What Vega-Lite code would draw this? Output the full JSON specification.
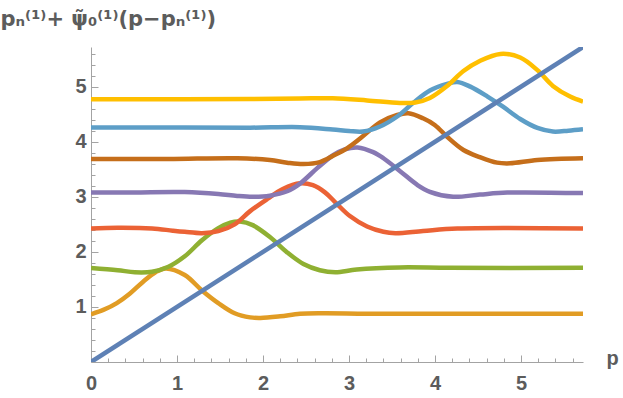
{
  "$schema": "https://vega.github.io/schema/vega-lite/v6.json",
  "width": 492,
  "height": 315,
  "autosize": {"type": "none"},
  "padding": {"left": 91, "top": 47, "right": 40, "bottom": 36},
  "background": "white",
  "config": {"view": {"stroke": null}, "font": "Liberation Sans"},
  "datasets": {
    "curves": [
      {"n": "1", "x": 0, "y": 0.867}, {"n": "1", "x": 0.15, "y": 0.95}, {"n": "1", "x": 0.3, "y": 1.07}, {"n": "1", "x": 0.45, "y": 1.24}, {"n": "1", "x": 0.6, "y": 1.45}, {"n": "1", "x": 0.75, "y": 1.63}, {"n": "1", "x": 0.87, "y": 1.7}, {"n": "1", "x": 1.09, "y": 1.58}, {"n": "1", "x": 1.29, "y": 1.3}, {"n": "1", "x": 1.48, "y": 1.07}, {"n": "1", "x": 1.67, "y": 0.885}, {"n": "1", "x": 1.85, "y": 0.81}, {"n": "1", "x": 1.97, "y": 0.8}, {"n": "1", "x": 2.2, "y": 0.83}, {"n": "1", "x": 2.43, "y": 0.876}, {"n": "1", "x": 2.7, "y": 0.885}, {"n": "1", "x": 3.2, "y": 0.878}, {"n": "1", "x": 4.0, "y": 0.876}, {"n": "1", "x": 5.72, "y": 0.875},
      {"n": "2", "x": 0, "y": 1.709}, {"n": "2", "x": 0.31, "y": 1.667}, {"n": "2", "x": 0.51, "y": 1.63}, {"n": "2", "x": 0.71, "y": 1.64}, {"n": "2", "x": 0.9, "y": 1.73}, {"n": "2", "x": 1.09, "y": 1.92}, {"n": "2", "x": 1.29, "y": 2.21}, {"n": "2", "x": 1.48, "y": 2.43}, {"n": "2", "x": 1.62, "y": 2.53}, {"n": "2", "x": 1.73, "y": 2.55}, {"n": "2", "x": 1.88, "y": 2.485}, {"n": "2", "x": 2.08, "y": 2.27}, {"n": "2", "x": 2.28, "y": 1.99}, {"n": "2", "x": 2.47, "y": 1.78}, {"n": "2", "x": 2.66, "y": 1.667}, {"n": "2", "x": 2.84, "y": 1.63}, {"n": "2", "x": 3.09, "y": 1.68}, {"n": "2", "x": 3.59, "y": 1.717}, {"n": "2", "x": 4.17, "y": 1.71}, {"n": "2", "x": 5.72, "y": 1.71},
      {"n": "3", "x": 0, "y": 2.425}, {"n": "3", "x": 0.31, "y": 2.436}, {"n": "3", "x": 0.71, "y": 2.425}, {"n": "3", "x": 0.95, "y": 2.385}, {"n": "3", "x": 1.09, "y": 2.364}, {"n": "3", "x": 1.29, "y": 2.34}, {"n": "3", "x": 1.48, "y": 2.376}, {"n": "3", "x": 1.67, "y": 2.5}, {"n": "3", "x": 1.85, "y": 2.74}, {"n": "3", "x": 2.05, "y": 2.96}, {"n": "3", "x": 2.23, "y": 3.14}, {"n": "3", "x": 2.43, "y": 3.244}, {"n": "3", "x": 2.58, "y": 3.21}, {"n": "3", "x": 2.72, "y": 3.08}, {"n": "3", "x": 2.84, "y": 2.9}, {"n": "3", "x": 3.01, "y": 2.65}, {"n": "3", "x": 3.21, "y": 2.46}, {"n": "3", "x": 3.4, "y": 2.364}, {"n": "3", "x": 3.54, "y": 2.34}, {"n": "3", "x": 3.86, "y": 2.38}, {"n": "3", "x": 4.26, "y": 2.425}, {"n": "3", "x": 5.72, "y": 2.425},
      {"n": "4", "x": 0, "y": 3.076}, {"n": "4", "x": 0.5, "y": 3.08}, {"n": "4", "x": 1.09, "y": 3.085}, {"n": "4", "x": 1.48, "y": 3.05}, {"n": "4", "x": 1.7, "y": 3.015}, {"n": "4", "x": 1.88, "y": 3.0}, {"n": "4", "x": 2.08, "y": 3.02}, {"n": "4", "x": 2.28, "y": 3.1}, {"n": "4", "x": 2.43, "y": 3.24}, {"n": "4", "x": 2.63, "y": 3.52}, {"n": "4", "x": 2.81, "y": 3.75}, {"n": "4", "x": 2.95, "y": 3.86}, {"n": "4", "x": 3.1, "y": 3.895}, {"n": "4", "x": 3.28, "y": 3.81}, {"n": "4", "x": 3.4, "y": 3.7}, {"n": "4", "x": 3.59, "y": 3.47}, {"n": "4", "x": 3.79, "y": 3.22}, {"n": "4", "x": 3.94, "y": 3.09}, {"n": "4", "x": 4.21, "y": 3.0}, {"n": "4", "x": 4.52, "y": 3.04}, {"n": "4", "x": 4.84, "y": 3.076}, {"n": "4", "x": 5.72, "y": 3.067},
      {"n": "5", "x": 0, "y": 3.686}, {"n": "5", "x": 0.9, "y": 3.686}, {"n": "5", "x": 1.7, "y": 3.7}, {"n": "5", "x": 2.08, "y": 3.667}, {"n": "5", "x": 2.28, "y": 3.62}, {"n": "5", "x": 2.47, "y": 3.595}, {"n": "5", "x": 2.66, "y": 3.63}, {"n": "5", "x": 2.81, "y": 3.74}, {"n": "5", "x": 2.98, "y": 3.885}, {"n": "5", "x": 3.16, "y": 4.1}, {"n": "5", "x": 3.36, "y": 4.35}, {"n": "5", "x": 3.56, "y": 4.485}, {"n": "5", "x": 3.69, "y": 4.516}, {"n": "5", "x": 3.86, "y": 4.425}, {"n": "5", "x": 4.0, "y": 4.3}, {"n": "5", "x": 4.14, "y": 4.09}, {"n": "5", "x": 4.33, "y": 3.85}, {"n": "5", "x": 4.52, "y": 3.72}, {"n": "5", "x": 4.72, "y": 3.62}, {"n": "5", "x": 4.87, "y": 3.607}, {"n": "5", "x": 5.19, "y": 3.667}, {"n": "5", "x": 5.72, "y": 3.698},
      {"n": "6", "x": 0, "y": 4.258}, {"n": "6", "x": 1.0, "y": 4.258}, {"n": "6", "x": 1.85, "y": 4.255}, {"n": "6", "x": 2.43, "y": 4.265}, {"n": "6", "x": 2.81, "y": 4.222}, {"n": "6", "x": 3.0, "y": 4.195}, {"n": "6", "x": 3.16, "y": 4.185}, {"n": "6", "x": 3.36, "y": 4.276}, {"n": "6", "x": 3.56, "y": 4.458}, {"n": "6", "x": 3.74, "y": 4.698}, {"n": "6", "x": 3.94, "y": 4.93}, {"n": "6", "x": 4.14, "y": 5.05}, {"n": "6", "x": 4.26, "y": 5.085}, {"n": "6", "x": 4.41, "y": 5.0}, {"n": "6", "x": 4.61, "y": 4.82}, {"n": "6", "x": 4.79, "y": 4.636}, {"n": "6", "x": 4.99, "y": 4.413}, {"n": "6", "x": 5.19, "y": 4.25}, {"n": "6", "x": 5.37, "y": 4.185}, {"n": "6", "x": 5.55, "y": 4.2}, {"n": "6", "x": 5.72, "y": 4.225},
      {"n": "7", "x": 0, "y": 4.771}, {"n": "7", "x": 1.0, "y": 4.773}, {"n": "7", "x": 1.85, "y": 4.776}, {"n": "7", "x": 2.43, "y": 4.785}, {"n": "7", "x": 2.81, "y": 4.789}, {"n": "7", "x": 3.21, "y": 4.75}, {"n": "7", "x": 3.59, "y": 4.704}, {"n": "7", "x": 3.77, "y": 4.713}, {"n": "7", "x": 3.94, "y": 4.795}, {"n": "7", "x": 4.14, "y": 5.013}, {"n": "7", "x": 4.33, "y": 5.285}, {"n": "7", "x": 4.52, "y": 5.467}, {"n": "7", "x": 4.76, "y": 5.595}, {"n": "7", "x": 4.99, "y": 5.53}, {"n": "7", "x": 5.19, "y": 5.3}, {"n": "7", "x": 5.37, "y": 5.013}, {"n": "7", "x": 5.57, "y": 4.82}, {"n": "7", "x": 5.72, "y": 4.73}
    ],
    "diag": [
      {"x": 0, "y": 0}, {"x": 5.72, "y": 5.72}
    ]
  },
  "encoding": {
    "x": {
      "field": "x", "type": "quantitative",
      "scale": {"domain": [0, 5.72], "nice": false, "zero": false},
      "axis": {
        "values": [0, 0.2, 0.4, 0.6, 0.8, 1, 1.2, 1.4, 1.6, 1.8, 2, 2.2, 2.4, 2.6, 2.8, 3, 3.2, 3.4, 3.6, 3.8, 4, 4.2, 4.4, 4.6, 4.8, 5, 5.2, 5.4, 5.6],
        "labelExpr": "datum.value % 1 === 0 ? format(datum.value, 'd') : ''",
        "grid": false,
        "domainColor": "#a3a3a3",
        "tickColor": "#a3a3a3",
        "tickSize": {"condition": {"test": "datum.value % 1 === 0", "value": -7}, "value": -4},
        "labelPadding": 18,
        "labelFontSize": 20,
        "labelFontWeight": "bold",
        "labelColor": "#5c5c5c",
        "labelFont": "Liberation Sans",
        "labelOverlap": false,
        "labelFlush": false,
        "title": "p",
        "titleFontSize": 20,
        "titleFontWeight": "bold",
        "titleColor": "#5c5c5c",
        "titleFont": "Liberation Sans",
        "titleX": 515,
        "titleY": 2,
        "titleAlign": "left",
        "titleBaseline": "alphabetic",
        "titleAnchor": null
      }
    },
    "y": {
      "field": "y", "type": "quantitative",
      "scale": {"domain": [0, 5.72], "nice": false, "zero": false},
      "axis": {
        "values": [0.2, 0.4, 0.6, 0.8, 1, 1.2, 1.4, 1.6, 1.8, 2, 2.2, 2.4, 2.6, 2.8, 3, 3.2, 3.4, 3.6, 3.8, 4, 4.2, 4.4, 4.6, 4.8, 5, 5.2, 5.4, 5.6],
        "labelExpr": "datum.value % 1 === 0 ? format(datum.value, 'd') : ''",
        "grid": false,
        "domainColor": "#a3a3a3",
        "tickColor": "#a3a3a3",
        "tickSize": {"condition": {"test": "datum.value % 1 === 0", "value": -7}, "value": -4},
        "labelPadding": 12,
        "labelFontSize": 20,
        "labelFontWeight": "bold",
        "labelColor": "#5c5c5c",
        "labelFont": "Liberation Sans",
        "labelOverlap": false,
        "labelFlush": false,
        "title": "pₙ⁽¹⁾+ ψ̃₀⁽¹⁾(p−pₙ⁽¹⁾)",
        "titleFontSize": 21,
        "titleFontWeight": "bold",
        "titleColor": "#5c5c5c",
        "titleFont": "DejaVu Sans",
        "titleAngle": 0,
        "titleX": -91,
        "titleY": -22,
        "titleAlign": "left",
        "titleBaseline": "alphabetic",
        "titleAnchor": null
      }
    }
  },
  "layer": [
    {
      "data": {"name": "curves"},
      "mark": {"type": "line", "interpolate": "catmull-rom", "strokeWidth": 4.5, "clip": true},
      "encoding": {
        "color": {
          "field": "n", "type": "nominal",
          "scale": {"domain": ["1", "2", "3", "4", "5", "6", "7"], "range": ["#E19C24", "#8FB032", "#EB6235", "#8778B3", "#C56E1A", "#5D9EC7", "#FFBF00"]},
          "legend": null
        }
      }
    },
    {
      "data": {"name": "diag"},
      "mark": {"type": "line", "strokeWidth": 4.5, "color": "#5E81B5", "clip": true},
      "encoding": {}
    }
  ]
}
